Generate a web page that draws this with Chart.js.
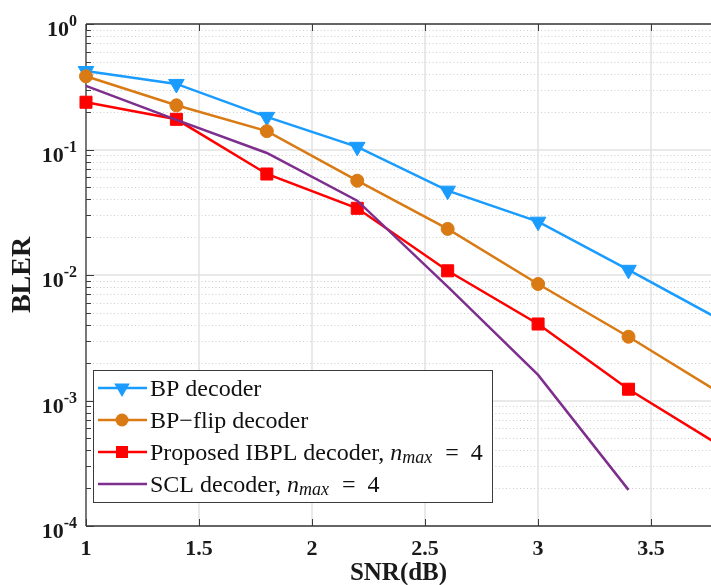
<!DOCTYPE html>
<html lang="en">
<head>
<meta charset="UTF-8">
<title>BLER vs SNR</title>
<script src="https://cdn.jsdelivr.net/npm/chart.js@4.4.0/dist/chart.umd.min.js"></script>
<style>
  html, body { margin: 0; padding: 0; background: #fff; }
  canvas { display: block; }
</style>
</head>
<body>
<canvas id="bler" width="711" height="585"></canvas>
<script>
// values
const snr = [1, 1.4, 1.8, 2.2, 2.6, 3.0, 3.4, 3.8];
const bpBler = [0.422, 0.333, 0.182, 0.105, 0.047, 0.0266, 0.011, 0.00446];
const flipBler = [0.383, 0.225, 0.140, 0.0564, 0.0233, 0.00848, 0.00322, 0.00116];
const ibplBler = [0.238, 0.174, 0.0638, 0.034, 0.0108, 0.00407, 0.00123, 0.000443];
const sclSnr = [1, 1.4, 1.8, 2.2, 2.6, 3.0, 3.4];
const sclBler = [0.321, 0.172, 0.0938, 0.0391, 0.00807, 0.0016, 0.000194];

const xTicks = [1, 1.5, 2, 2.5, 3, 3.5];
const yDecades = [0, -1, -2, -3, -4];

const SERIF = "'Liberation Serif', 'Times New Roman', serif";
const AXIS = '#3a3a3a';

function pts(xs, ys) {
  return xs.map((x, i) => ({ x, y: ys[i] }));
}

// legend label pieces: [text, italic, subscript]
const legendItems = [
  { label: [['BP decoder']], color: '#1a9cff', marker: 'triangleDown' },
  { label: [['BP\u2212flip decoder']], color: '#d97a14', marker: 'circle' },
  { label: [['Proposed IBPL decoder, '], ['n', true], ['max', true, true], ['\u2002=\u20024']], color: '#ff0000', marker: 'square' },
  { label: [['SCL decoder, '], ['n', true], ['max', true, true], ['\u2002=\u20024']], color: '#7e2f8e', marker: null }
];

function line(ctx, x1, y1, x2, y2) {
  ctx.beginPath();
  ctx.moveTo(x1, y1);
  ctx.lineTo(x2, y2);
  ctx.stroke();
}

function marker(ctx, kind, x, y, color) {
  ctx.save();
  ctx.fillStyle = color;
  ctx.beginPath();
  if (kind === 'triangleDown') {
    const r = 9;
    ctx.moveTo(x - r * 0.866, y - r * 0.5);
    ctx.lineTo(x + r * 0.866, y - r * 0.5);
    ctx.lineTo(x, y + r);
    ctx.closePath();
  } else if (kind === 'circle') {
    ctx.arc(x, y, 6.5, 0, Math.PI * 2);
  } else if (kind === 'square') {
    ctx.rect(x - 6, y - 6, 12, 12);
  }
  ctx.fill();
  ctx.restore();
}

// grid, box and tick marks under the data
const frame = {
  id: 'frame',
  beforeDatasetsDraw(chart) {
    const { ctx, chartArea: a, scales: { x, y } } = chart;
    ctx.save();
    ctx.lineWidth = 1;

    // minor y grid, dotted
    ctx.strokeStyle = '#cdcdcd';
    ctx.setLineDash([1, 2.5]);
    yDecades.slice(1).forEach(e => {
      for (let k = 2; k <= 9; k++) {
        const py = Math.round(y.getPixelForValue(k * Math.pow(10, e))) + 0.5;
        line(ctx, a.left, py, a.right, py);
      }
    });

    // major grid, solid
    ctx.setLineDash([]);
    ctx.strokeStyle = '#e2e2e2';
    ctx.lineWidth = 1.5;
    yDecades.forEach(e => {
      const py = Math.round(y.getPixelForValue(Math.pow(10, e)));
      line(ctx, a.left, py, a.right, py);
    });
    xTicks.forEach(v => {
      const px = Math.round(x.getPixelForValue(v));
      line(ctx, px, a.top, px, a.bottom);
    });

    // box
    ctx.strokeStyle = AXIS;
    ctx.lineWidth = 1.3;
    line(ctx, a.left, a.top, a.right, a.top);
    line(ctx, a.left, a.top, a.left, a.bottom);
    line(ctx, a.left, a.bottom, a.right, a.bottom);

    // tick marks, pointing inward
    ctx.lineWidth = 1;
    xTicks.forEach(v => {
      const px = Math.round(x.getPixelForValue(v)) + 0.5;
      line(ctx, px, a.bottom, px, a.bottom - 7);
      line(ctx, px, a.top, px, a.top + 7);
    });
    yDecades.forEach(e => {
      const py = Math.round(y.getPixelForValue(Math.pow(10, e))) + 0.5;
      line(ctx, a.left, py, a.left + 8, py);
      if (e < 0) {
        for (let k = 2; k <= 9; k++) {
          const pm = Math.round(y.getPixelForValue(k * Math.pow(10, e))) + 0.5;
          line(ctx, a.left, pm, a.left + 5, pm);
        }
      }
    });
    ctx.restore();
  },

  afterDraw(chart) {
    const { ctx, scales: { y } } = chart;
    ctx.save();
    ctx.fillStyle = '#1a1a1a';
    ctx.textBaseline = 'alphabetic';

    // y tick labels 10^e
    const right = 77;
    yDecades.forEach(e => {
      const py = y.getPixelForValue(Math.pow(10, e));
      const exp = String(e);
      ctx.font = 'bold 16px ' + SERIF;
      const w2 = ctx.measureText(exp).width;
      ctx.fillText(exp, right - w2, py + 2);
      ctx.font = 'bold 22px ' + SERIF;
      const w1 = ctx.measureText('10').width;
      ctx.fillText('10', right - w2 - w1, py + 12);
    });

    // legend
    const box = { left: 93.5, top: 370.5, right: 492.5, bottom: 502.5 };
    ctx.fillStyle = '#fff';
    ctx.fillRect(box.left, box.top, box.right - box.left, box.bottom - box.top);
    ctx.strokeStyle = AXIS;
    ctx.lineWidth = 1;
    ctx.strokeRect(box.left, box.top, box.right - box.left, box.bottom - box.top);

    legendItems.forEach((item, i) => {
      const ry = 388 + i * 32;
      ctx.strokeStyle = item.color;
      ctx.lineWidth = 2.5;
      line(ctx, 98, ry, 147, ry);
      if (item.marker) marker(ctx, item.marker, 122, ry, item.color);

      let tx = 150;
      ctx.fillStyle = '#111';
      item.label.forEach(([t, it, sub]) => {
        ctx.font = (it ? 'italic ' : '') + (sub ? '18px ' : '24px ') + SERIF;
        ctx.fillText(t, tx, ry + (sub ? 11 : 8));
        tx += ctx.measureText(t).width + (sub ? 1 : 0);
      });
    });
    ctx.restore();
  }
};

const ds = (label, data, color, style, radius, rotation) => ({
  label,
  data,
  borderColor: color,
  backgroundColor: color,
  pointBackgroundColor: color,
  pointBorderColor: color,
  borderWidth: 2.5,
  pointStyle: style,
  pointRadius: radius,
  pointRotation: rotation || 0,
  pointBorderWidth: 1,
  tension: 0,
  clip: { left: false, top: false, right: 0, bottom: false }
});

new Chart(document.getElementById('bler'), {
  type: 'line',
  data: {
    datasets: [
      ds('SCL decoder, n_max = 4', pts(sclSnr, sclBler), '#7e2f8e', false, 0),
      ds('Proposed IBPL decoder, n_max = 4', pts(snr, ibplBler), '#ff0000', 'rect', 8.5),
      ds('BP-flip decoder', pts(snr, flipBler), '#d97a14', 'circle', 6.5),
      ds('BP decoder', pts(snr, bpBler), '#1a9cff', 'triangle', 9, 180)
    ]
  },
  options: {
    responsive: false,
    devicePixelRatio: 1,
    animation: false,
    layout: { autoPadding: false, padding: { top: 24, right: 0, left: 0, bottom: 0 } },
    plugins: { legend: { display: false }, tooltip: { enabled: false } },
    scales: {
      x: {
        type: 'linear',
        min: 1,
        max: 3.765,
        grid: { display: false },
        border: { display: false },
        ticks: {
          stepSize: 0.5,
          includeBounds: false,
          padding: 2,
          color: '#1a1a1a',
          font: { family: SERIF, size: 22, weight: 'bold' },
          maxRotation: 0,
          callback: v => String(v)
        },
        title: {
          display: true,
          text: 'SNR(dB)',
          color: '#1a1a1a',
          font: { family: SERIF, size: 25, weight: 'bold', lineHeight: 1 },
          padding: { top: 0, bottom: -1 }
        },
        afterFit: s => {
          s.height = 59;
          s.paddingLeft = 0;
          s.paddingRight = 0;
        }
      },
      y: {
        type: 'logarithmic',
        min: 1e-4,
        max: 1,
        grid: { display: false },
        border: { display: false },
        ticks: { display: false },
        title: {
          display: true,
          text: 'BLER',
          color: '#1a1a1a',
          font: { family: SERIF, size: 28, weight: 'bold', lineHeight: 1 },
          padding: { top: 9, bottom: 0 }
        },
        afterFit: s => {
          s.width = 86;
          s.paddingTop = 0;
          s.paddingBottom = 0;
        }
      }
    }
  },
  plugins: [frame]
});
</script>
</body>
</html>
